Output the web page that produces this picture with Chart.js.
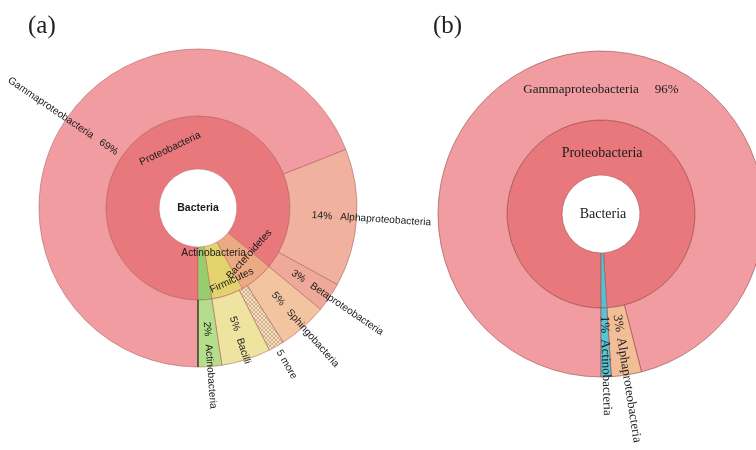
<!DOCTYPE html>
<html><head><meta charset="utf-8">
<script src="https://cdn.jsdelivr.net/npm/chart.js@4.4.1/dist/chart.umd.min.js"></script>
<style>
html,body{margin:0;padding:0;background:#fff;}
#wrap{position:relative;width:756px;height:450px;overflow:hidden;}
canvas{position:absolute;left:0;top:0;}
.tag{position:absolute;font-family:"Liberation Serif","Times New Roman",serif;font-size:25px;line-height:1;color:#222;}
</style></head>
<body><div id="wrap">
<canvas id="ca" width="756" height="450"></canvas>
<canvas id="cb" width="800" height="450"></canvas>
<div class="tag" id="ta" style="left:28px;top:12px"></div>
<div class="tag" id="tb" style="left:433px;top:12px"></div>
</div>
<script>
// ---------- data ----------
const titleA = '(a)';
const titleB = '(b)';
const rootName = 'Bacteria';
const phylaA = ['Proteobacteria', 'Bacteroidetes', 'Firmicutes', 'Actinobacteria'];
const phylaAValues = [86, 6, 5.6, 2.4];
const classesA = ['Gammaproteobacteria', 'Alphaproteobacteria', 'Betaproteobacteria', 'Sphingobacteria', '5 more', 'Bacilli', 'Actinobacteria'];
const classesAValues = [69, 14, 3, 5, 1.6, 5, 2.4];
const phylaB = ['Proteobacteria', 'Actinobacteria'];
const phylaBValues = [99, 1];
const classesB = ['Gammaproteobacteria', 'Alphaproteobacteria', 'Actinobacteria'];
const classesBValues = [96, 3, 1];

// ---------- styles ----------
function hatch() {
  const c = document.createElement('canvas'); c.width = 4; c.height = 4;
  const g = c.getContext('2d');
  g.fillStyle = '#F4E2C4'; g.fillRect(0, 0, 4, 4);
  g.strokeStyle = '#C8A27C'; g.lineWidth = 0.8;
  g.beginPath(); g.moveTo(0, 0); g.lineTo(4, 4); g.moveTo(4, 0); g.lineTo(0, 4); g.stroke();
  return g.createPattern(c, 'repeat');
}
const phylaAColors = ['#E9787D', '#ECAA82', '#E3D36E', '#98CD6E'];
const classesAColors = ['#F09CA0', '#F0B29E', '#EEA99A', '#F3C4A0', hatch(), '#EEE4A0', '#B4DE8C'];
const phylaBColors = ['#E9787D', '#4FC3D3'];
const classesBColors = ['#F09CA0', '#F2BE98', '#56C6D6'];

document.getElementById('ta').textContent = titleA;
document.getElementById('tb').textContent = titleB;

const TAU = Math.PI * 2;
function norm(a) { a = a % TAU; if (a > Math.PI) a -= TAU; if (a <= -Math.PI) a += TAU; return a; }

const kronaLabels = {
  id: 'kronaLabels',
  afterDatasetsDraw(chart, args, o) {
    const ctx = chart.ctx;
    if (o.edge) {
      const arc = chart.getDatasetMeta(o.edge.ring).data[0];
      const p = arc.getProps(['x', 'y', 'startAngle', 'innerRadius', 'outerRadius'], true);
      ctx.save();
      ctx.strokeStyle = o.edge.color; ctx.lineWidth = o.edge.width;
      ctx.beginPath();
      ctx.moveTo(p.x + p.innerRadius * Math.cos(p.startAngle), p.y + p.innerRadius * Math.sin(p.startAngle));
      ctx.lineTo(p.x + p.outerRadius * Math.cos(p.startAngle), p.y + p.outerRadius * Math.sin(p.startAngle));
      ctx.stroke(); ctx.restore();
    }
    (o.rings || []).forEach((cfg, di) => {
      if (!cfg) return;
      const ds = chart.data.datasets[di];
      const meta = chart.getDatasetMeta(di);
      const total = ds.data.reduce((a, b) => a + b, 0);
      meta.data.forEach((arc, i) => {
        const name = ds.names[i];
        const ov = (cfg.overrides || {})[name] || {};
        const mode = ov.mode || cfg.mode;
        if (mode === 'none') return;
        const p = arc.getProps(['x', 'y', 'startAngle', 'endAngle', 'innerRadius', 'outerRadius'], true);
        let th = ov.angle !== undefined ? (ov.angle - 90) * Math.PI / 180 : (p.startAngle + p.endAngle) / 2;
        th = norm(th);
        const pct = ov.noPct ? '' : Math.round(ds.data[i] / total * 100) + '%';
        const gap = ov.gap !== undefined ? ov.gap : cfg.gap;
        ctx.save();
        ctx.font = cfg.font; ctx.fillStyle = cfg.color; ctx.textBaseline = 'middle';
        if (mode === 'radial') {
          const r0 = ov.r !== undefined ? ov.r : cfg.r;
          const wp = pct ? ctx.measureText(pct).width : 0;
          const off = pct ? wp + gap : 0;
          ctx.translate(p.x, p.y);
          if (Math.cos(th) >= 0) {
            ctx.rotate(th); ctx.textAlign = 'left';
            if (pct) ctx.fillText(pct, r0, 0);
            ctx.fillText(name, r0 + off, 0);
          } else {
            ctx.rotate(th + Math.PI); ctx.textAlign = 'right';
            if (pct) ctx.fillText(pct, -r0, 0);
            ctx.fillText(name, -(r0 + off), 0);
          }
        } else {
          const r = ov.r !== undefined ? ov.r : (p.innerRadius + p.outerRadius) / 2;
          ctx.translate(p.x + r * Math.cos(th), p.y + r * Math.sin(th));
          const rot = ov.rot !== undefined ? ov.rot * Math.PI / 180 : (Math.sin(th) > 0 ? th - Math.PI / 2 : th + Math.PI / 2);
          ctx.rotate(rot);
          if (ov.showPct) {
            const wn = ctx.measureText(name).width, wp = ctx.measureText(pct).width;
            const w = wn + gap + wp;
            ctx.textAlign = 'left';
            ctx.fillText(name, -w / 2, 0);
            ctx.fillText(pct, -w / 2 + wn + gap, 0);
          } else {
            ctx.textAlign = 'center';
            ctx.fillText(name, 0, 0);
          }
        }
        ctx.restore();
      });
    });
    if (o.center) {
      const arc = chart.getDatasetMeta(0).data[0];
      ctx.save();
      ctx.font = o.center.font; ctx.fillStyle = o.center.color;
      ctx.textAlign = 'center'; ctx.textBaseline = 'middle';
      ctx.fillText(o.center.text, arc.x + (o.center.dx || 0), arc.y + (o.center.dy || 0));
      ctx.restore();
    }
  }
};

const common = {
  responsive: false, animation: false, events: [],
  rotation: 180,
  plugins: { legend: { display: false }, tooltip: { enabled: false } }
};

const sansA = '10.2px "Liberation Sans", Arial, sans-serif';

new Chart(document.getElementById('ca'), {
  type: 'doughnut',
  data: {
    datasets: [
      { names: classesA, data: classesAValues, backgroundColor: classesAColors, weight: 67,
        borderColor: 'rgba(175,90,90,0.55)', borderWidth: 1, hoverOffset: 0 },
      { names: phylaA, data: phylaAValues, backgroundColor: phylaAColors, weight: 53,
        borderColor: 'rgba(175,90,90,0.45)', borderWidth: 1, hoverOffset: 0 }
    ]
  },
  options: Object.assign({}, common, {
    radius: 159, cutout: '24.5%',
    layout: { padding: { left: 0, right: 360, top: 0, bottom: 34 } },
    plugins: Object.assign({}, common.plugins, {
      kronaLabels: {
        edge: { ring: 0, color: '#2f3a22', width: 1.3 },
        center: { text: rootName, font: 'bold 10.5px "Liberation Sans", Arial, sans-serif', color: '#1a1a1a' },
        rings: [
          { mode: 'radial', r: 114, gap: 8, font: sansA, color: '#1a1a1a',
            overrides: { 'Gammaproteobacteria': { r: 98, gap: 9 }, '5 more': { r: 164, noPct: true } } },
          { mode: 'tangent', gap: 0, font: sansA, color: '#1a1a1a',
            overrides: {
              'Actinobacteria': { angle: 161, r: 48, rot: 0 },
              'Bacteroidetes': { angle: 132, r: 69 },
              'Firmicutes': { angle: 155, r: 80 }
            } }
        ]
      }
    })
  }),
  plugins: [kronaLabels]
});

new Chart(document.getElementById('cb'), {
  type: 'doughnut',
  data: {
    datasets: [
      { names: classesB, data: classesBValues, backgroundColor: classesBColors, weight: 69,
        borderColor: 'rgba(150,70,70,0.6)', borderWidth: 1, hoverOffset: 0 },
      { names: phylaB, data: phylaBValues, backgroundColor: phylaBColors, weight: 55,
        borderColor: 'rgba(150,70,70,0.5)', borderWidth: 1, hoverOffset: 0 }
    ]
  },
  options: Object.assign({}, common, {
    radius: 163, cutout: '23.9%',
    layout: { padding: { left: 402, right: 0, top: 0, bottom: 22 } },
    plugins: Object.assign({}, common.plugins, {
      kronaLabels: {
        center: { text: rootName, font: '14px "Liberation Serif", "Times New Roman", serif', color: '#1a1a1a', dx: 2 },
        rings: [
          { mode: 'radial', r: 102, gap: 6, font: '13px "Liberation Serif", "Times New Roman", serif', color: '#1a1a1a',
            overrides: { 'Gammaproteobacteria': { mode: 'tangent', angle: 0, r: 124, rot: 0, showPct: true, gap: 16 } } },
          { mode: 'tangent', gap: 0, font: '14px "Liberation Serif", "Times New Roman", serif', color: '#1a1a1a',
            overrides: { 'Proteobacteria': { angle: 1, r: 61, rot: 0 }, 'Actinobacteria': { mode: 'none' } } }
        ]
      }
    })
  }),
  plugins: [kronaLabels]
});
</script>
</body></html>
